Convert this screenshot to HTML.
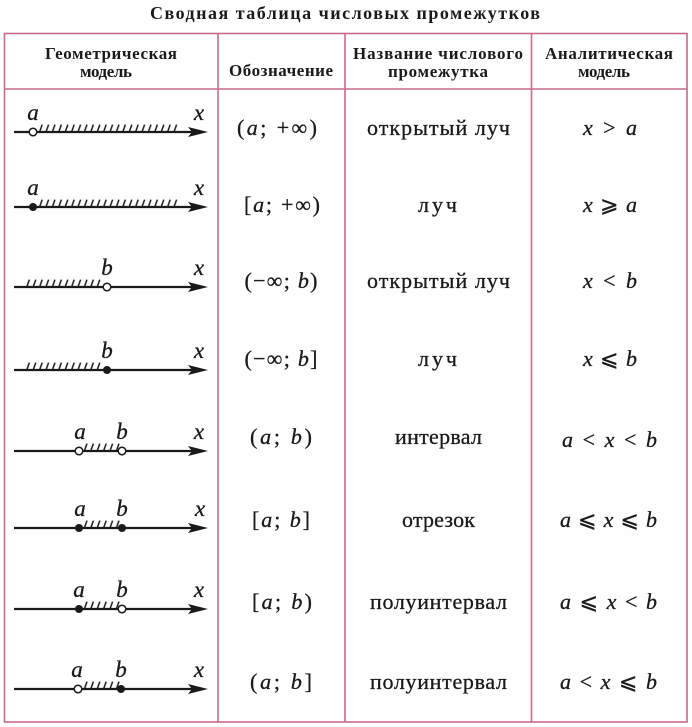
<!DOCTYPE html>
<html><head><meta charset="utf-8"><style>
html,body{margin:0;padding:0;background:#fff;}
svg{display:block;}
.t{font-family:"Liberation Serif","DejaVu Serif",serif;fill:#1a1a1a;}
.b{font-weight:bold;}
.i{font-style:italic;}
.m{font-family:"Liberation Serif","DejaVu Sans",serif;}
.s{stroke:#1a1a1a;stroke-width:0.3;}
</style></head><body>
<svg width="692" height="727" viewBox="0 0 692 727" xmlns="http://www.w3.org/2000/svg">
<defs>
<pattern id="h" patternUnits="userSpaceOnUse" x="0" y="0" width="6.4" height="8">
<line x1="1" y1="8.5" x2="3.8" y2="0.6" stroke="#1a1a1a" stroke-width="1.5"/>
</pattern>
</defs>
<rect width="692" height="727" fill="#fefefe"/>

<!-- title -->
<text class="t b" x="345" y="19" font-size="18" text-anchor="middle" textLength="390" lengthAdjust="spacing">Сводная таблица числовых промежутков</text>

<!-- grid -->
<g stroke="#c96b86" stroke-width="1.6" fill="none">
<rect x="4.5" y="33.5" width="682.5" height="688.5"/>
<line x1="4.5" y1="89" x2="687" y2="89"/>
<line x1="218" y1="33.5" x2="218" y2="722"/>
<line x1="345" y1="33.5" x2="345" y2="722"/>
<line x1="531.5" y1="33.5" x2="531.5" y2="722"/>
</g>

<!-- headers -->
<g class="t b" font-size="17" text-anchor="middle">
<text x="111" y="59" textLength="132" lengthAdjust="spacing">Геометрическая</text>
<text x="106" y="77" textLength="52" lengthAdjust="spacing">модель</text>
<text x="281" y="76" textLength="104" lengthAdjust="spacing">Обозначение</text>
<text x="438" y="59" textLength="170" lengthAdjust="spacing">Название числового</text>
<text x="438" y="77" textLength="100" lengthAdjust="spacing">промежутка</text>
<text x="609" y="59" textLength="128" lengthAdjust="spacing">Аналитическая</text>
<text x="604" y="77" textLength="52" lengthAdjust="spacing">модель</text>
</g>

<!-- geometric models -->
<g stroke="#1a1a1a" fill="#1a1a1a">
<g transform="translate(0,132)">
<rect x="38.4" y="-8" width="140.8" height="8" fill="url(#h)" stroke="none"/>
<line x1="14" y1="0" x2="196" y2="0" stroke-width="2.2"/>
<polygon points="208,0 188,-5 192,0 188,5" stroke="none"/>
<circle cx="33" cy="0" r="3.8" fill="#fff" stroke-width="1.5"/>
</g>
<g transform="translate(0,207)">
<rect x="38.4" y="-8" width="140.8" height="8" fill="url(#h)" stroke="none"/>
<line x1="14" y1="0" x2="196" y2="0" stroke-width="2.2"/>
<polygon points="208,0 188,-5 192,0 188,5" stroke="none"/>
<circle cx="33" cy="0" r="4" stroke="none"/>
</g>
<g transform="translate(0,287)">
<rect x="25.6" y="-8" width="76.8" height="8" fill="url(#h)" stroke="none"/>
<line x1="14" y1="0" x2="196" y2="0" stroke-width="2.2"/>
<polygon points="208,0 188,-5 192,0 188,5" stroke="none"/>
<circle cx="107" cy="0" r="3.8" fill="#fff" stroke-width="1.5"/>
</g>
<g transform="translate(0,370)">
<rect x="25.6" y="-8" width="76.8" height="8" fill="url(#h)" stroke="none"/>
<line x1="14" y1="0" x2="196" y2="0" stroke-width="2.2"/>
<polygon points="208,0 188,-5 192,0 188,5" stroke="none"/>
<circle cx="107" cy="0" r="4" stroke="none"/>
</g>
<g transform="translate(0,451)">
<rect x="83.2" y="-8" width="38.4" height="8" fill="url(#h)" stroke="none"/>
<line x1="14" y1="0" x2="196" y2="0" stroke-width="2.2"/>
<polygon points="208,0 188,-5 192,0 188,5" stroke="none"/>
<circle cx="79" cy="0" r="3.8" fill="#fff" stroke-width="1.5"/>
<circle cx="122" cy="0" r="3.8" fill="#fff" stroke-width="1.5"/>
</g>
<g transform="translate(0,528)">
<rect x="83.2" y="-8" width="38.4" height="8" fill="url(#h)" stroke="none"/>
<line x1="14" y1="0" x2="196" y2="0" stroke-width="2.2"/>
<polygon points="208,0 188,-5 192,0 188,5" stroke="none"/>
<circle cx="79" cy="0" r="4" stroke="none"/>
<circle cx="122" cy="0" r="4" stroke="none"/>
</g>
<g transform="translate(0,609)">
<rect x="83.2" y="-8" width="38.4" height="8" fill="url(#h)" stroke="none"/>
<line x1="14" y1="0" x2="196" y2="0" stroke-width="2.2"/>
<polygon points="208,0 188,-5 192,0 188,5" stroke="none"/>
<circle cx="79" cy="0" r="4" stroke="none"/>
<circle cx="122" cy="0" r="3.8" fill="#fff" stroke-width="1.5"/>
</g>
<g transform="translate(0,689)">
<rect x="83.2" y="-8" width="38.4" height="8" fill="url(#h)" stroke="none"/>
<line x1="14" y1="0" x2="196" y2="0" stroke-width="2.2"/>
<polygon points="208,0 188,-5 192,0 188,5" stroke="none"/>
<circle cx="78" cy="0" r="3.8" fill="#fff" stroke-width="1.5"/>
<circle cx="121" cy="0" r="4" stroke="none"/>
</g>
</g>

<!-- axis labels -->
<g class="t i s" font-size="23" text-anchor="middle">
<text x="33" y="120">a</text><text x="199" y="120">x</text>
<text x="33" y="195">a</text><text x="199" y="195">x</text>
<text x="107" y="275">b</text><text x="199" y="275">x</text>
<text x="107" y="358">b</text><text x="199" y="358">x</text>
<text x="80" y="439">a</text><text x="122" y="439">b</text><text x="199" y="439">x</text>
<text x="80" y="516">a</text><text x="122" y="516">b</text><text x="200" y="516">x</text>
<text x="79" y="597">a</text><text x="122" y="597">b</text><text x="199" y="597">x</text>
<text x="77" y="677">a</text><text x="121" y="677">b</text><text x="199" y="677">x</text>
</g>

<!-- designations -->
<g class="t m s" font-size="22" text-anchor="middle">
<text x="277" y="135" textLength="80" lengthAdjust="spacing">(<tspan class="i">a</tspan>; +∞)</text>
<text x="282" y="212" textLength="76" lengthAdjust="spacing">[<tspan class="i">a</tspan>; +∞)</text>
<text x="281" y="288" textLength="73" lengthAdjust="spacing">(−∞; <tspan class="i">b</tspan>)</text>
<text x="281" y="366" textLength="73" lengthAdjust="spacing">(−∞; <tspan class="i">b</tspan>]</text>
<text x="281" y="444" textLength="62" lengthAdjust="spacing">(<tspan class="i">a</tspan>; <tspan class="i">b</tspan>)</text>
<text x="281" y="527" textLength="58" lengthAdjust="spacing">[<tspan class="i">a</tspan>; <tspan class="i">b</tspan>]</text>
<text x="282" y="609" textLength="60" lengthAdjust="spacing">[<tspan class="i">a</tspan>; <tspan class="i">b</tspan>)</text>
<text x="281" y="689" textLength="62" lengthAdjust="spacing">(<tspan class="i">a</tspan>; <tspan class="i">b</tspan>]</text>
</g>

<!-- names -->
<g class="t s" font-size="22" text-anchor="middle">
<text x="438.5" y="135" textLength="143" lengthAdjust="spacing">открытый луч</text>
<text x="437.5" y="212" textLength="39" lengthAdjust="spacing">луч</text>
<text x="438.5" y="288" textLength="143" lengthAdjust="spacing">открытый луч</text>
<text x="437.5" y="366" textLength="39" lengthAdjust="spacing">луч</text>
<text x="438.5" y="444" textLength="87" lengthAdjust="spacing">интервал</text>
<text x="438.5" y="527" textLength="73" lengthAdjust="spacing">отрезок</text>
<text x="438.5" y="609" textLength="137" lengthAdjust="spacing">полуинтервал</text>
<text x="438.5" y="689" textLength="137" lengthAdjust="spacing">полуинтервал</text>
</g>

<!-- analytic models -->
<g class="t m s" font-size="22" text-anchor="middle">
<text x="610" y="135" textLength="54" lengthAdjust="spacing"><tspan class="i">x</tspan> &gt; <tspan class="i">a</tspan></text>
<text x="610" y="212" textLength="54" lengthAdjust="spacing"><tspan class="i">x</tspan> ⩾ <tspan class="i">a</tspan></text>
<text x="610" y="288" textLength="54" lengthAdjust="spacing"><tspan class="i">x</tspan> &lt; <tspan class="i">b</tspan></text>
<text x="610" y="366" textLength="54" lengthAdjust="spacing"><tspan class="i">x</tspan> ⩽ <tspan class="i">b</tspan></text>
<text x="609.5" y="447" textLength="95" lengthAdjust="spacing"><tspan class="i">a</tspan> &lt; <tspan class="i">x</tspan> &lt; <tspan class="i">b</tspan></text>
<text x="608.5" y="527" textLength="97" lengthAdjust="spacing"><tspan class="i">a</tspan> ⩽ <tspan class="i">x</tspan> ⩽ <tspan class="i">b</tspan></text>
<text x="608.5" y="609" textLength="97" lengthAdjust="spacing"><tspan class="i">a</tspan> ⩽ <tspan class="i">x</tspan> &lt; <tspan class="i">b</tspan></text>
<text x="608.5" y="689" textLength="97" lengthAdjust="spacing"><tspan class="i">a</tspan> &lt; <tspan class="i">x</tspan> ⩽ <tspan class="i">b</tspan></text>
</g>
</svg>
</body></html>
